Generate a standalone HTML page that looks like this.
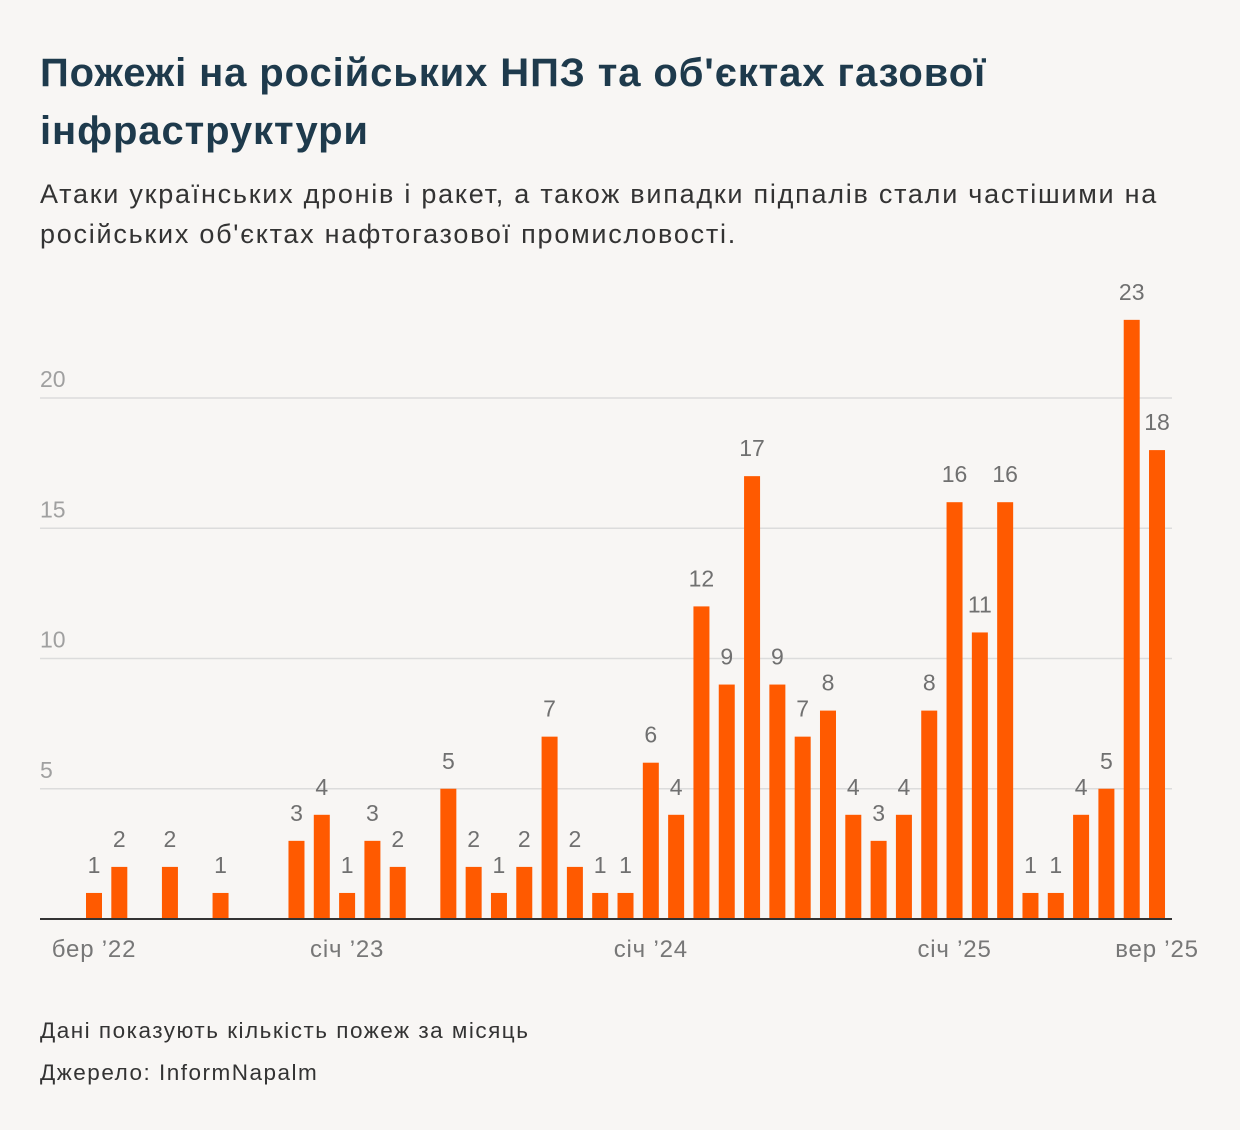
<!DOCTYPE html>
<html><head><meta charset="utf-8">
<style>
body{margin:0;width:1240px;height:1130px;background:#f8f6f4;font-family:"Liberation Sans",sans-serif;overflow:hidden;position:relative}
h1{position:absolute;left:40px;top:44px;margin:0;font-size:40px;line-height:58px;color:#1e3a4c;font-weight:bold;width:1180px;letter-spacing:0.9px}
.sub{position:absolute;left:40px;top:174px;font-size:27px;line-height:40px;color:#333;width:1190px;letter-spacing:1.75px;white-space:nowrap}
.note{position:absolute;left:40px;font-size:22.5px;color:#333;letter-spacing:1.5px}
</style></head><body>
<h1>Пожежі на російських НПЗ та об'єктах газової інфраструктури</h1>
<div class="sub">Атаки українських дронів і ракет, а також випадки підпалів стали частішими на<br>російських об'єктах нафтогазової промисловості.</div>
<svg id="chart" width="1240" height="1130" style="position:absolute;left:0;top:0"></svg>
<div class="note" style="top:1018px">Дані показують кількість пожеж за місяць</div>
<div class="note" style="top:1060px">Джерело: InformNapalm</div>
<script>
const monthIndex=[0,1,3,5,8,9,10,11,12,14,15,16,17,18,19,20,21,22,23,24,25,26,27,28,29,30,31,32,33,34,35,36,37,38,39,40,41,42];
const values=[1,2,2,1,3,4,1,3,2,5,2,1,2,7,2,1,1,6,4,12,9,17,9,7,8,4,3,4,8,16,11,16,1,1,4,5,23,18];
const yTicks=[5,10,15,20];
const xLabels=["бер ’22","січ ’23","січ ’24","січ ’25","вер ’25"];
const xLabelIdx=[0,10,22,34,42];
const NS="http://www.w3.org/2000/svg",svg=document.getElementById('chart');
const x=i=>94+i*25.31, y=v=>919-v*26.05;
function mk(t,a){const e=document.createElementNS(NS,t);for(const k in a)e.setAttribute(k,a[k]);svg.appendChild(e);return e;}
yTicks.forEach(t=>{
 const l=mk('line',{x1:40,x2:1172,y1:y(t),y2:y(t),stroke:'#dcdcdc','stroke-width':1.5});
 
 
 const tx=mk('text',{x:40,y:y(t)-11,'font-size':23,fill:'#a0a0a0','font-family':'Liberation Sans'});tx.textContent=t;
 
 
});
values.forEach((v,k)=>{
 const cx=x(monthIndex[k]);
 const r=mk('rect',{x:cx-8,y:y(v),width:16,height:919-y(v),fill:'#ff5a00'});
 
 
 const t=mk('text',{x:cx,y:y(v)-20,'font-size':23,fill:'#707070','text-anchor':'middle','font-family':'Liberation Sans'});t.textContent=v;
 
 
});
const base=mk('line',{x1:40,x2:1172,y1:919,y2:919,stroke:'#333','stroke-width':2});


xLabels.forEach((s,k)=>{
 const t=mk('text',{x:x(xLabelIdx[k]),y:957,'font-size':24,fill:'#777','text-anchor':'middle','font-family':'Liberation Sans','letter-spacing':0.8});t.textContent=s;
 
 
});
</script>
</body></html>
